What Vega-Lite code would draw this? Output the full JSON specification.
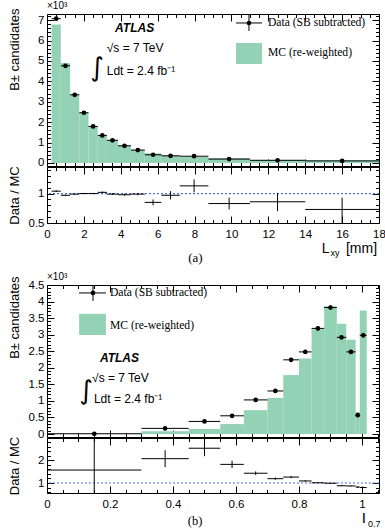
{
  "$schema": "https://vega.github.io/schema/vega-lite/v6.json",
  "background": "white",
  "padding": {"left": 7, "top": 0, "right": 0, "bottom": 0},
  "bounds": "flush",
  "spacing": 1,
  "config": {
    "view": {"stroke": "black", "strokeWidth": 1},
    "axis": {"grid": false, "domain": false, "labelFont": "Liberation Sans", "labelFontSize": 11.5, "labelColor": "black", "titleFont": "Liberation Sans", "titleFontSize": 13, "titleFontWeight": "normal", "titleColor": "black", "tickColor": "black", "tickWidth": 1, "labelPadding": 10, "labelFlush": false, "labelOverlap": false}
  },
  "datasets": {
    "a": [
      {"lo": 0.25, "hi": 0.75, "c": 0.5, "d": 7.07, "dl": 6.98, "dh": 7.16, "mc": 6.78, "r": 1.04, "rl": 1.025, "rh": 1.055},
      {"lo": 0.75, "hi": 1.25, "c": 1.0, "d": 4.76, "dl": 4.69, "dh": 4.83, "mc": 4.9, "r": 0.97, "rl": 0.96, "rh": 0.98},
      {"lo": 1.25, "hi": 1.75, "c": 1.5, "d": 3.34, "dl": 3.28, "dh": 3.4, "mc": 3.37, "r": 0.99, "rl": 0.98, "rh": 1.0},
      {"lo": 1.75, "hi": 2.25, "c": 2.0, "d": 2.46, "dl": 2.41, "dh": 2.51, "mc": 2.46, "r": 1.0, "rl": 0.99, "rh": 1.01},
      {"lo": 2.25, "hi": 2.75, "c": 2.5, "d": 1.79, "dl": 1.75, "dh": 1.83, "mc": 1.8, "r": 1.0, "rl": 0.99, "rh": 1.01},
      {"lo": 2.75, "hi": 3.25, "c": 3.0, "d": 1.35, "dl": 1.31, "dh": 1.39, "mc": 1.32, "r": 1.02, "rl": 1.005, "rh": 1.035},
      {"lo": 3.25, "hi": 3.85, "c": 3.55, "d": 1.11, "dl": 1.075, "dh": 1.145, "mc": 1.12, "r": 0.99, "rl": 0.975, "rh": 1.005},
      {"lo": 3.85, "hi": 4.55, "c": 4.2, "d": 0.84, "dl": 0.81, "dh": 0.87, "mc": 0.86, "r": 0.98, "rl": 0.962, "rh": 0.998},
      {"lo": 4.55, "hi": 5.3, "c": 4.925, "d": 0.63, "dl": 0.6, "dh": 0.66, "mc": 0.635, "r": 0.99, "rl": 0.97, "rh": 1.01},
      {"lo": 5.3, "hi": 6.2, "c": 5.75, "d": 0.4, "dl": 0.375, "dh": 0.425, "mc": 0.47, "r": 0.85, "rl": 0.8, "rh": 0.9},
      {"lo": 6.2, "hi": 7.2, "c": 6.7, "d": 0.35, "dl": 0.328, "dh": 0.372, "mc": 0.36, "r": 0.97, "rl": 0.9, "rh": 1.04},
      {"lo": 7.2, "hi": 8.75, "c": 7.975, "d": 0.33, "dl": 0.308, "dh": 0.352, "mc": 0.29, "r": 1.13, "rl": 1.02, "rh": 1.24},
      {"lo": 8.75, "hi": 11, "c": 9.875, "d": 0.19, "dl": 0.172, "dh": 0.208, "mc": 0.225, "r": 0.83, "rl": 0.73, "rh": 0.93},
      {"lo": 11, "hi": 14, "c": 12.5, "d": 0.13, "dl": 0.115, "dh": 0.145, "mc": 0.15, "r": 0.86, "rl": 0.7, "rh": 1.01},
      {"lo": 14, "hi": 18, "c": 16, "d": 0.1, "dl": 0.086, "dh": 0.114, "mc": 0.137, "r": 0.73, "rl": 0.5, "rh": 0.93}
    ],
    "b": [
      {"lo": 0, "hi": 0.3, "c": 0.15, "d": 0.008, "dl": -0.03, "dh": 0.05, "mc": 0.005, "r": 1.57, "rl": 0.0, "rh": 3.5},
      {"lo": 0.3, "hi": 0.45, "c": 0.375, "d": 0.17, "dl": 0.14, "dh": 0.2, "mc": 0.082, "r": 2.07, "rl": 1.7, "rh": 2.44},
      {"lo": 0.45, "hi": 0.55, "c": 0.5, "d": 0.38, "dl": 0.34, "dh": 0.42, "mc": 0.15, "r": 2.53, "rl": 2.18, "rh": 2.88},
      {"lo": 0.55, "hi": 0.625, "c": 0.5875, "d": 0.55, "dl": 0.5, "dh": 0.6, "mc": 0.3, "r": 1.82, "rl": 1.66, "rh": 1.98},
      {"lo": 0.625, "hi": 0.7, "c": 0.6625, "d": 1.03, "dl": 0.98, "dh": 1.08, "mc": 0.72, "r": 1.43, "rl": 1.35, "rh": 1.51},
      {"lo": 0.7, "hi": 0.75, "c": 0.725, "d": 1.3, "dl": 1.25, "dh": 1.35, "mc": 1.09, "r": 1.19, "rl": 1.14, "rh": 1.24},
      {"lo": 0.75, "hi": 0.8, "c": 0.775, "d": 2.24, "dl": 2.18, "dh": 2.3, "mc": 1.78, "r": 1.26, "rl": 1.21, "rh": 1.31},
      {"lo": 0.8, "hi": 0.84, "c": 0.82, "d": 2.48, "dl": 2.42, "dh": 2.54, "mc": 2.28, "r": 1.09, "rl": 1.06, "rh": 1.12},
      {"lo": 0.84, "hi": 0.88, "c": 0.86, "d": 3.19, "dl": 3.12, "dh": 3.26, "mc": 3.16, "r": 1.01, "rl": 0.99, "rh": 1.03},
      {"lo": 0.88, "hi": 0.92, "c": 0.9, "d": 3.82, "dl": 3.75, "dh": 3.89, "mc": 3.86, "r": 0.99, "rl": 0.97, "rh": 1.01},
      {"lo": 0.92, "hi": 0.95, "c": 0.935, "d": 2.92, "dl": 2.86, "dh": 2.98, "mc": 3.33, "r": 0.88, "rl": 0.86, "rh": 0.9},
      {"lo": 0.95, "hi": 0.98, "c": 0.965, "d": 2.48, "dl": 2.42, "dh": 2.54, "mc": 2.85, "r": 0.87, "rl": 0.85, "rh": 0.89},
      {"lo": 0.98, "hi": 0.993, "c": 0.9865, "d": 0.57, "dl": 0.54, "dh": 0.6, "mc": 0.67, "r": 0.82, "rl": 0.78, "rh": 0.86},
      {"lo": 0.993, "hi": 1.015, "c": 1.004, "d": 2.98, "dl": 2.92, "dh": 3.04, "mc": 3.73, "r": 0.8, "rl": 0.78, "rh": 0.82}
    ]
  },
  "vconcat": [
    {
      "width": 332, "height": 152,
      "data": {"name": "a"},
      "layer": [
        {"mark": {"type": "rect", "color": "#93d2b4"},
         "encoding": {
           "x": {"field": "lo", "type": "quantitative", "scale": {"domain": [0, 18], "nice": false, "zero": false},
                 "axis": {"orient": "bottom", "title": null, "labels": false, "values": [0,0.5,1,1.5,2,2.5,3,3.5,4,4.5,5,5.5,6,6.5,7,7.5,8,8.5,9,9.5,10,10.5,11,11.5,12,12.5,13,13.5,14,14.5,15,15.5,16,16.5,17,17.5,18],
                          "tickSize": {"condition": {"test": "datum.value % 2 === 0", "value": -7}, "value": -3.5}}},
           "x2": {"field": "hi"},
           "y": {"field": "mc", "type": "quantitative", "scale": {"domain": [-0.15, 7.3], "nice": false, "zero": false},
                 "axis": {"orient": "left", "title": "B± candidates", "titleAnchor": "end", "titleX": -26, "titleY": -6,
                          "values": [0,0.2,0.4,0.6,0.8,1,1.2,1.4,1.6,1.8,2,2.2,2.4,2.6,2.8,3,3.2,3.4,3.6,3.8,4,4.2,4.4,4.6,4.8,5,5.2,5.4,5.6,5.8,6,6.2,6.4,6.6,6.8,7,7.2],
                          "labelExpr": "datum.value % 1 === 0 ? format(datum.value, '~g') : ''",
                          "tickSize": {"condition": {"test": "datum.value % 1 === 0", "value": -7}, "value": -3.5}}},
           "y2": {"datum": 0}
         }},
        {"mark": {"type": "rule", "color": "black", "strokeWidth": 1},
         "encoding": {
           "x": {"field": "lo", "type": "quantitative",
                 "axis": {"orient": "top", "title": null, "labels": false, "values": [0,0.5,1,1.5,2,2.5,3,3.5,4,4.5,5,5.5,6,6.5,7,7.5,8,8.5,9,9.5,10,10.5,11,11.5,12,12.5,13,13.5,14,14.5,15,15.5,16,16.5,17,17.5,18],
                          "tickSize": {"condition": {"test": "datum.value % 2 === 0", "value": -7}, "value": -3.5}}},
           "x2": {"field": "hi"},
           "y": {"field": "d", "type": "quantitative",
                 "axis": {"orient": "right", "title": null, "labels": false, "values": [0,0.2,0.4,0.6,0.8,1,1.2,1.4,1.6,1.8,2,2.2,2.4,2.6,2.8,3,3.2,3.4,3.6,3.8,4,4.2,4.4,4.6,4.8,5,5.2,5.4,5.6,5.8,6,6.2,6.4,6.6,6.8,7,7.2],
                          "tickSize": {"condition": {"test": "datum.value % 1 === 0", "value": -7}, "value": -3.5}}}
         }},
        {"mark": {"type": "rule", "color": "black", "strokeWidth": 1},
         "encoding": {
           "x": {"field": "c", "type": "quantitative", "axis": null},
           "y": {"field": "dl", "type": "quantitative", "axis": null},
           "y2": {"field": "dh"}
         }},
        {"mark": {"type": "point", "filled": true, "color": "black", "opacity": 1, "size": 22},
         "encoding": {
           "x": {"field": "c", "type": "quantitative", "axis": null},
           "y": {"field": "d", "type": "quantitative", "axis": null}
         }},
        {"data": {"values": [{}]}, "mark": {"type": "rule", "color": "black", "strokeWidth": 1},
         "encoding": {"x": {"datum": 10.25, "axis": null}, "x2": {"datum": 11.66}, "y": {"datum": 6.86, "axis": null}}},
        {"data": {"values": [{}]}, "mark": {"type": "rule", "color": "black", "strokeWidth": 1},
         "encoding": {"x": {"datum": 10.95, "axis": null}, "y": {"datum": 7.25, "axis": null}, "y2": {"datum": 6.47}}},
        {"data": {"values": [{}]}, "mark": {"type": "point", "filled": true, "color": "black", "opacity": 1, "size": 22},
         "encoding": {"x": {"datum": 10.95, "axis": null}, "y": {"datum": 6.86, "axis": null}}},
        {"data": {"values": [{}]}, "mark": {"type": "rect", "color": "#93d2b4"},
         "encoding": {"x": {"datum": 10.25, "axis": null}, "x2": {"datum": 11.66}, "y": {"datum": 5.88, "axis": null}, "y2": {"datum": 4.85}}},
        {"data": {"values": [{}]}, "mark": {"type": "text", "text": "Data (SB subtracted)", "font": "Liberation Serif", "fontSize": 11.6, "align": "left", "baseline": "middle", "color": "black"},
         "encoding": {"x": {"datum": 11.98, "axis": null}, "y": {"datum": 6.86, "axis": null}}},
        {"data": {"values": [{}]}, "mark": {"type": "text", "text": "MC (re-weighted)", "font": "Liberation Serif", "fontSize": 11.6, "align": "left", "baseline": "middle", "color": "black"},
         "encoding": {"x": {"datum": 11.98, "axis": null}, "y": {"datum": 5.39, "axis": null}}},
        {"data": {"values": [{}]}, "mark": {"type": "text", "text": "ATLAS", "font": "Liberation Sans", "fontWeight": "bold", "fontStyle": "italic", "fontSize": 12, "align": "left", "baseline": "middle", "color": "black"},
         "encoding": {"x": {"datum": 3.69, "axis": null}, "y": {"datum": 6.63, "axis": null}}},
        {"data": {"values": [{}]}, "mark": {"type": "text", "text": "√s = 7 TeV", "font": "Liberation Sans", "fontSize": 12, "align": "left", "baseline": "middle", "color": "black"},
         "encoding": {"x": {"datum": 3.24, "axis": null}, "y": {"datum": 5.62, "axis": null}}},
        {"data": {"values": [{}]}, "mark": {"type": "text", "text": "Ldt = 2.4 fb⁻¹", "font": "Liberation Sans", "fontSize": 12, "align": "left", "baseline": "middle", "color": "black"},
         "encoding": {"x": {"datum": 3.24, "axis": null}, "y": {"datum": 4.5, "axis": null}}},
        {"data": {"values": [{}]}, "mark": {"type": "text", "text": "∫", "font": "DejaVu Sans", "fontSize": 26, "align": "center", "baseline": "middle", "color": "black"},
         "encoding": {"x": {"datum": 2.71, "axis": null}, "y": {"datum": 4.65, "axis": null}}},
        {"data": {"values": [{}]}, "mark": {"type": "text", "text": "×10³", "font": "Liberation Sans", "fontSize": 10, "align": "left", "baseline": "middle", "color": "black"},
         "encoding": {"x": {"datum": 0, "axis": null}, "y": {"datum": 7.69, "axis": null}}}
      ]
    },
    {
      "width": 332, "height": 56,
      "data": {"name": "a"},
      "layer": [
        {"data": {"values": [{}]}, "mark": {"type": "rule", "color": "#4f6fd8", "strokeDash": [2, 2], "strokeWidth": 1.2},
         "encoding": {"y": {"datum": 1, "type": "quantitative", "axis": null, "scale": {"domain": [0.5, 1.45], "nice": false, "zero": false}}}},
        {"mark": {"type": "rule", "color": "black", "strokeWidth": 1, "clip": true},
         "encoding": {
           "x": {"field": "lo", "type": "quantitative", "scale": {"domain": [0, 18], "nice": false, "zero": false},
                 "axis": {"orient": "bottom", "title": null, "labelPadding": 12, "values": [0,0.5,1,1.5,2,2.5,3,3.5,4,4.5,5,5.5,6,6.5,7,7.5,8,8.5,9,9.5,10,10.5,11,11.5,12,12.5,13,13.5,14,14.5,15,15.5,16,16.5,17,17.5,18],
                          "labelExpr": "datum.value % 2 === 0 ? format(datum.value, '~g') : ''",
                          "tickSize": {"condition": {"test": "datum.value % 2 === 0", "value": -7}, "value": -3.5}}},
           "x2": {"field": "hi"},
           "y": {"field": "r", "type": "quantitative",
                 "axis": {"orient": "left", "title": "Data / MC", "titleX": -26, "values": [0.5,0.6,0.7,0.8,0.9,1,1.1,1.2,1.3,1.4],
                          "labelExpr": "(datum.value === 0.5 || datum.value === 1) ? format(datum.value, '~g') : ''",
                          "tickSize": {"condition": {"test": "datum.value === 0.5 || datum.value === 1", "value": -7}, "value": -3.5}}}
         }},
        {"mark": {"type": "rule", "color": "black", "strokeWidth": 1, "clip": true},
         "encoding": {
           "x": {"field": "c", "type": "quantitative",
                 "axis": {"orient": "top", "title": null, "labels": false, "values": [0,0.5,1,1.5,2,2.5,3,3.5,4,4.5,5,5.5,6,6.5,7,7.5,8,8.5,9,9.5,10,10.5,11,11.5,12,12.5,13,13.5,14,14.5,15,15.5,16,16.5,17,17.5,18],
                          "tickSize": {"condition": {"test": "datum.value % 2 === 0", "value": -7}, "value": -3.5}}},
           "y": {"field": "rl", "type": "quantitative",
                 "axis": {"orient": "right", "title": null, "labels": false, "values": [0.5,0.6,0.7,0.8,0.9,1,1.1,1.2,1.3,1.4],
                          "tickSize": {"condition": {"test": "datum.value === 0.5 || datum.value === 1", "value": -7}, "value": -3.5}}},
           "y2": {"field": "rh"}
         }},
        {"data": {"values": [{}]}, "mark": {"type": "text", "text": "L", "font": "Liberation Sans", "fontSize": 14, "align": "left", "baseline": "middle", "color": "black"},
         "encoding": {"x": {"datum": 14.89, "axis": null}, "y": {"datum": 0.055, "axis": null}}},
        {"data": {"values": [{}]}, "mark": {"type": "text", "text": "xy", "font": "Liberation Sans", "fontSize": 9, "align": "left", "baseline": "middle", "color": "black"},
         "encoding": {"x": {"datum": 15.37, "axis": null}, "y": {"datum": -0.01, "axis": null}}},
        {"data": {"values": [{}]}, "mark": {"type": "text", "text": "[mm]", "font": "Liberation Sans", "fontSize": 14, "align": "left", "baseline": "middle", "color": "black"},
         "encoding": {"x": {"datum": 16.21, "axis": null}, "y": {"datum": 0.055, "axis": null}}},
        {"data": {"values": [{}]}, "mark": {"type": "text", "text": "(a)", "font": "Liberation Serif", "fontSize": 13, "align": "center", "baseline": "middle", "color": "black"},
         "encoding": {"x": {"datum": 8.05, "axis": null}, "y": {"datum": -0.1, "axis": null}}}
      ]
    },
    {
      "width": 332, "height": 60,
      "data": {"values": []},
      "view": {"stroke": null},
      "mark": {"type": "point"}
    },
    {
      "width": 332, "height": 152,
      "data": {"name": "b"},
      "layer": [
        {"mark": {"type": "rect", "color": "#93d2b4"},
         "encoding": {
           "x": {"field": "lo", "type": "quantitative", "scale": {"domain": [0, 1.054], "nice": false, "zero": false},
                 "axis": {"orient": "bottom", "title": null, "labels": false, "values": [0,0.05,0.1,0.15,0.2,0.25,0.3,0.35,0.4,0.45,0.5,0.55,0.6,0.65,0.7,0.75,0.8,0.85,0.9,0.95,1,1.05],
                          "tickSize": {"condition": {"test": "abs(datum.value*5 - round(datum.value*5)) < 0.001", "value": -7}, "value": -3.5}}},
           "x2": {"field": "hi"},
           "y": {"field": "mc", "type": "quantitative", "scale": {"domain": [-0.09, 4.5], "nice": false, "zero": false},
                 "axis": {"orient": "left", "title": "B± candidates", "titleAnchor": "end", "titleX": -26, "titleY": -9,
                          "values": [0,0.1,0.2,0.3,0.4,0.5,0.6,0.7,0.8,0.9,1,1.1,1.2,1.3,1.4,1.5,1.6,1.7,1.8,1.9,2,2.1,2.2,2.3,2.4,2.5,2.6,2.7,2.8,2.9,3,3.1,3.2,3.3,3.4,3.5,3.6,3.7,3.8,3.9,4,4.1,4.2,4.3,4.4,4.5],
                          "labelExpr": "abs(datum.value*2 - round(datum.value*2)) < 0.001 ? format(datum.value, '~g') : ''",
                          "tickSize": {"condition": {"test": "abs(datum.value*2 - round(datum.value*2)) < 0.001", "value": -7}, "value": -3.5}}},
           "y2": {"datum": 0}
         }},
        {"mark": {"type": "rule", "color": "black", "strokeWidth": 1},
         "encoding": {
           "x": {"field": "lo", "type": "quantitative",
                 "axis": {"orient": "top", "title": null, "labels": false, "values": [0,0.05,0.1,0.15,0.2,0.25,0.3,0.35,0.4,0.45,0.5,0.55,0.6,0.65,0.7,0.75,0.8,0.85,0.9,0.95,1,1.05],
                          "tickSize": {"condition": {"test": "abs(datum.value*5 - round(datum.value*5)) < 0.001", "value": -7}, "value": -3.5}}},
           "x2": {"field": "hi"},
           "y": {"field": "d", "type": "quantitative",
                 "axis": {"orient": "right", "title": null, "labels": false, "values": [0,0.1,0.2,0.3,0.4,0.5,0.6,0.7,0.8,0.9,1,1.1,1.2,1.3,1.4,1.5,1.6,1.7,1.8,1.9,2,2.1,2.2,2.3,2.4,2.5,2.6,2.7,2.8,2.9,3,3.1,3.2,3.3,3.4,3.5,3.6,3.7,3.8,3.9,4,4.1,4.2,4.3,4.4,4.5],
                          "tickSize": {"condition": {"test": "abs(datum.value*2 - round(datum.value*2)) < 0.001", "value": -7}, "value": -3.5}}}
         }},
        {"mark": {"type": "rule", "color": "black", "strokeWidth": 1},
         "encoding": {
           "x": {"field": "c", "type": "quantitative", "axis": null},
           "y": {"field": "dl", "type": "quantitative", "axis": null},
           "y2": {"field": "dh"}
         }},
        {"mark": {"type": "point", "filled": true, "color": "black", "opacity": 1, "size": 22},
         "encoding": {
           "x": {"field": "c", "type": "quantitative", "axis": null},
           "y": {"field": "d", "type": "quantitative", "axis": null}
         }},
        {"data": {"values": [{}]}, "mark": {"type": "rule", "color": "black", "strokeWidth": 1},
         "encoding": {"x": {"datum": 0.102, "axis": null}, "x2": {"datum": 0.187}, "y": {"datum": 4.26, "axis": null}}},
        {"data": {"values": [{}]}, "mark": {"type": "rule", "color": "black", "strokeWidth": 1},
         "encoding": {"x": {"datum": 0.146, "axis": null}, "y": {"datum": 4.5, "axis": null}, "y2": {"datum": 4.02}}},
        {"data": {"values": [{}]}, "mark": {"type": "point", "filled": true, "color": "black", "opacity": 1, "size": 22},
         "encoding": {"x": {"datum": 0.146, "axis": null}, "y": {"datum": 4.26, "axis": null}}},
        {"data": {"values": [{}]}, "mark": {"type": "rect", "color": "#93d2b4"},
         "encoding": {"x": {"datum": 0.102, "axis": null}, "x2": {"datum": 0.187}, "y": {"datum": 3.63, "axis": null}, "y2": {"datum": 2.99}}},
        {"data": {"values": [{}]}, "mark": {"type": "text", "text": "Data (SB subtracted)", "font": "Liberation Serif", "fontSize": 11.6, "align": "left", "baseline": "middle", "color": "black"},
         "encoding": {"x": {"datum": 0.2, "axis": null}, "y": {"datum": 4.26, "axis": null}}},
        {"data": {"values": [{}]}, "mark": {"type": "text", "text": "MC (re-weighted)", "font": "Liberation Serif", "fontSize": 11.6, "align": "left", "baseline": "middle", "color": "black"},
         "encoding": {"x": {"datum": 0.2, "axis": null}, "y": {"datum": 3.26, "axis": null}}},
        {"data": {"values": [{}]}, "mark": {"type": "text", "text": "ATLAS", "font": "Liberation Sans", "fontWeight": "bold", "fontStyle": "italic", "fontSize": 12, "align": "left", "baseline": "middle", "color": "black"},
         "encoding": {"x": {"datum": 0.168, "axis": null}, "y": {"datum": 2.3, "axis": null}}},
        {"data": {"values": [{}]}, "mark": {"type": "text", "text": "√s = 7 TeV", "font": "Liberation Sans", "fontSize": 12, "align": "left", "baseline": "middle", "color": "black"},
         "encoding": {"x": {"datum": 0.143, "axis": null}, "y": {"datum": 1.69, "axis": null}}},
        {"data": {"values": [{}]}, "mark": {"type": "text", "text": "Ldt = 2.4 fb⁻¹", "font": "Liberation Sans", "fontSize": 12, "align": "left", "baseline": "middle", "color": "black"},
         "encoding": {"x": {"datum": 0.149, "axis": null}, "y": {"datum": 1.06, "axis": null}}},
        {"data": {"values": [{}]}, "mark": {"type": "text", "text": "∫", "font": "DejaVu Sans", "fontSize": 26, "align": "center", "baseline": "middle", "color": "black"},
         "encoding": {"x": {"datum": 0.124, "axis": null}, "y": {"datum": 1.3, "axis": null}}},
        {"data": {"values": [{}]}, "mark": {"type": "text", "text": "×10³", "font": "Liberation Sans", "fontSize": 10, "align": "left", "baseline": "middle", "color": "black"},
         "encoding": {"x": {"datum": 0, "axis": null}, "y": {"datum": 4.74, "axis": null}}}
      ]
    },
    {
      "width": 332, "height": 55,
      "data": {"name": "b"},
      "layer": [
        {"data": {"values": [{}]}, "mark": {"type": "rule", "color": "#4f6fd8", "strokeDash": [2, 2], "strokeWidth": 1.2},
         "encoding": {"y": {"datum": 1, "type": "quantitative", "axis": null, "scale": {"domain": [0.56, 2.98], "nice": false, "zero": false}}}},
        {"mark": {"type": "rule", "color": "black", "strokeWidth": 1, "clip": true},
         "encoding": {
           "x": {"field": "lo", "type": "quantitative", "scale": {"domain": [0, 1.054], "nice": false, "zero": false},
                 "axis": {"orient": "bottom", "title": null, "labelPadding": 12, "values": [0,0.05,0.1,0.15,0.2,0.25,0.3,0.35,0.4,0.45,0.5,0.55,0.6,0.65,0.7,0.75,0.8,0.85,0.9,0.95,1,1.05],
                          "labelExpr": "abs(datum.value*5 - round(datum.value*5)) < 0.001 ? format(datum.value, '~g') : ''",
                          "tickSize": {"condition": {"test": "abs(datum.value*5 - round(datum.value*5)) < 0.001", "value": -7}, "value": -3.5}}},
           "x2": {"field": "hi"},
           "y": {"field": "r", "type": "quantitative",
                 "axis": {"orient": "left", "title": "Data / MC", "titleX": -26, "values": [0.6,0.8,1,1.2,1.4,1.6,1.8,2,2.2,2.4,2.6,2.8],
                          "labelExpr": "(datum.value === 1 || datum.value === 2) ? format(datum.value, '~g') : ''",
                          "tickSize": {"condition": {"test": "datum.value === 1 || datum.value === 2", "value": -7}, "value": -3.5}}}
         }},
        {"mark": {"type": "rule", "color": "black", "strokeWidth": 1, "clip": true},
         "encoding": {
           "x": {"field": "c", "type": "quantitative",
                 "axis": {"orient": "top", "title": null, "labels": false, "values": [0,0.05,0.1,0.15,0.2,0.25,0.3,0.35,0.4,0.45,0.5,0.55,0.6,0.65,0.7,0.75,0.8,0.85,0.9,0.95,1,1.05],
                          "tickSize": {"condition": {"test": "abs(datum.value*5 - round(datum.value*5)) < 0.001", "value": -7}, "value": -3.5}}},
           "y": {"field": "rl", "type": "quantitative",
                 "axis": {"orient": "right", "title": null, "labels": false, "values": [0.6,0.8,1,1.2,1.4,1.6,1.8,2,2.2,2.4,2.6,2.8],
                          "tickSize": {"condition": {"test": "datum.value === 1 || datum.value === 2", "value": -7}, "value": -3.5}}},
           "y2": {"field": "rh"}
         }},
        {"data": {"values": [{}]}, "mark": {"type": "text", "text": "I", "font": "Liberation Sans", "fontSize": 15, "align": "left", "baseline": "middle", "color": "black"},
         "encoding": {"x": {"datum": 0.999, "axis": null}, "y": {"datum": -0.56, "axis": null}}},
        {"data": {"values": [{}]}, "mark": {"type": "text", "text": "0.7", "font": "Liberation Sans", "fontSize": 9, "align": "left", "baseline": "middle", "color": "black"},
         "encoding": {"x": {"datum": 1.019, "axis": null}, "y": {"datum": -0.82, "axis": null}}},
        {"data": {"values": [{}]}, "mark": {"type": "text", "text": "(b)", "font": "Liberation Serif", "fontSize": 12.5, "align": "center", "baseline": "middle", "color": "black"},
         "encoding": {"x": {"datum": 0.47, "axis": null}, "y": {"datum": -0.66, "axis": null}}}
      ]
    }
  ]
}
